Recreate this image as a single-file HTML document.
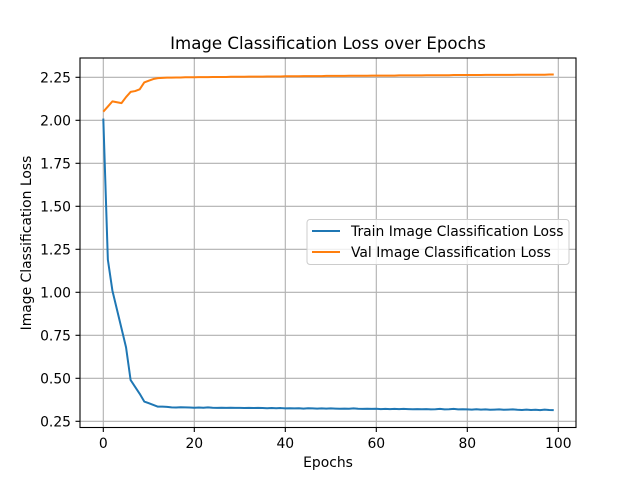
<!DOCTYPE html>
<html><head><meta charset="utf-8"><style>
body{margin:0;background:#fff}
svg text{font-family:"DejaVu Sans","Liberation Sans",sans-serif;fill:#000}
</style></head><body>
<svg id="c" width="640" height="480" xmlns="http://www.w3.org/2000/svg">
<rect width="640" height="480" fill="#fff"/>
<text x="328" y="49" font-size="16.6" text-anchor="middle">Image Classification Loss over Epochs</text>
<text x="328" y="467" font-size="13.9" text-anchor="middle">Epochs</text>
<text transform="translate(31,243) rotate(-90)" font-size="13.9" text-anchor="middle">Image Classification Loss</text>
<g id="grid"></g><g id="ticks"></g><g id="lines"></g>
<rect x="80" y="58" width="496" height="369.5" fill="none" stroke="#000" stroke-width="1.1"/>
<g>
<rect x="307" y="219.5" width="262" height="45" rx="3" fill="#fff" fill-opacity="0.8" stroke="#ccc"/>
<line x1="312" y1="231" x2="340" y2="231" stroke="#1f77b4" stroke-width="2"/>
<text x="351" y="236" font-size="13.9">Train Image Classification Loss</text>
<line x1="312" y1="252" x2="340" y2="252" stroke="#ff7f0e" stroke-width="2"/>
<text x="351" y="257" font-size="13.9">Val Image Classification Loss</text>
</g>
</svg>
<script>
const xTicks=[0,20,40,60,80,100];
const yTicks=[0.25,0.5,0.75,1.0,1.25,1.5,1.75,2.0,2.25];
const yTickLabels=["0.25","0.50","0.75","1.00","1.25","1.50","1.75","2.00","2.25"];
const trainLoss=[2.01,1.19,1.01,0.90,0.79,0.68,0.49,0.45,0.41,0.365,0.355,0.345,0.335,0.335,0.334,0.331,0.330,0.332,0.331,0.330,0.329,0.330,0.329,0.331,0.329,0.328,0.329,0.328,0.329,0.328,0.328,0.327,0.328,0.327,0.328,0.327,0.326,0.327,0.326,0.327,0.325,0.326,0.325,0.326,0.324,0.326,0.325,0.324,0.325,0.324,0.325,0.324,0.323,0.324,0.323,0.325,0.323,0.322,0.323,0.322,0.323,0.321,0.322,0.321,0.322,0.321,0.322,0.321,0.320,0.321,0.320,0.321,0.319,0.320,0.322,0.319,0.320,0.322,0.319,0.320,0.319,0.318,0.320,0.318,0.319,0.317,0.318,0.319,0.317,0.318,0.319,0.317,0.316,0.318,0.316,0.317,0.315,0.318,0.316,0.315];
const valLoss=[2.05,2.08,2.11,2.105,2.10,2.135,2.165,2.17,2.18,2.22,2.23,2.24,2.245,2.247,2.248,2.248,2.249,2.249,2.250,2.250,2.250,2.251,2.251,2.251,2.252,2.252,2.252,2.252,2.253,2.253,2.253,2.253,2.254,2.254,2.254,2.254,2.255,2.255,2.255,2.255,2.256,2.256,2.256,2.256,2.257,2.257,2.257,2.257,2.257,2.258,2.258,2.258,2.258,2.258,2.259,2.259,2.259,2.259,2.259,2.260,2.260,2.260,2.260,2.260,2.260,2.261,2.261,2.261,2.261,2.261,2.261,2.262,2.262,2.262,2.262,2.262,2.262,2.263,2.263,2.263,2.263,2.263,2.263,2.263,2.264,2.264,2.264,2.264,2.264,2.264,2.264,2.265,2.265,2.265,2.265,2.265,2.265,2.265,2.266,2.266];
const NS="http://www.w3.org/2000/svg";
function X(v){return 103.3+v*4.55;}
function Y(v){return 120.3+(2-v)*172;}
function mk(t,a,p){const e=document.createElementNS(NS,t);for(const k in a)e.setAttribute(k,a[k]);p.appendChild(e);return e;}
const grid=document.getElementById('grid'),ticks=document.getElementById('ticks'),lines=document.getElementById('lines');
xTicks.forEach(v=>{
 const g=mk('line',{x1:X(v),x2:X(v),y1:58,y2:427.5,stroke:'#b0b0b0','stroke-width':1.1},grid);
 
 
 mk('line',{x1:X(v),x2:X(v),y1:427.5,y2:432,stroke:'#000','stroke-width':1.1},ticks);
 const t=mk('text',{x:X(v),y:448,'font-size':13.9,'text-anchor':'middle'},ticks);t.textContent=v;
 
 
});
yTicks.forEach((v,i)=>{
 const g=mk('line',{x1:80,x2:576,y1:Y(v),y2:Y(v),stroke:'#b0b0b0','stroke-width':1.1},grid);
 
 
 mk('line',{x1:75.5,x2:80,y1:Y(v),y2:Y(v),stroke:'#000','stroke-width':1.1},ticks);
 const t=mk('text',{x:71,y:Y(v)+5,'font-size':13.9,'text-anchor':'end'},ticks);t.textContent=yTickLabels[i];
 
 
});
function pts(a){return a.map((v,i)=>X(i).toFixed(2)+','+Y(v).toFixed(2)).join(' ');}
const tl=mk('polyline',{points:pts(trainLoss),fill:'none',stroke:'#1f77b4','stroke-width':2,'stroke-linejoin':'round'},lines);


const vl=mk('polyline',{points:pts(valLoss),fill:'none',stroke:'#ff7f0e','stroke-width':2,'stroke-linejoin':'round'},lines);


</script>
</body></html>
